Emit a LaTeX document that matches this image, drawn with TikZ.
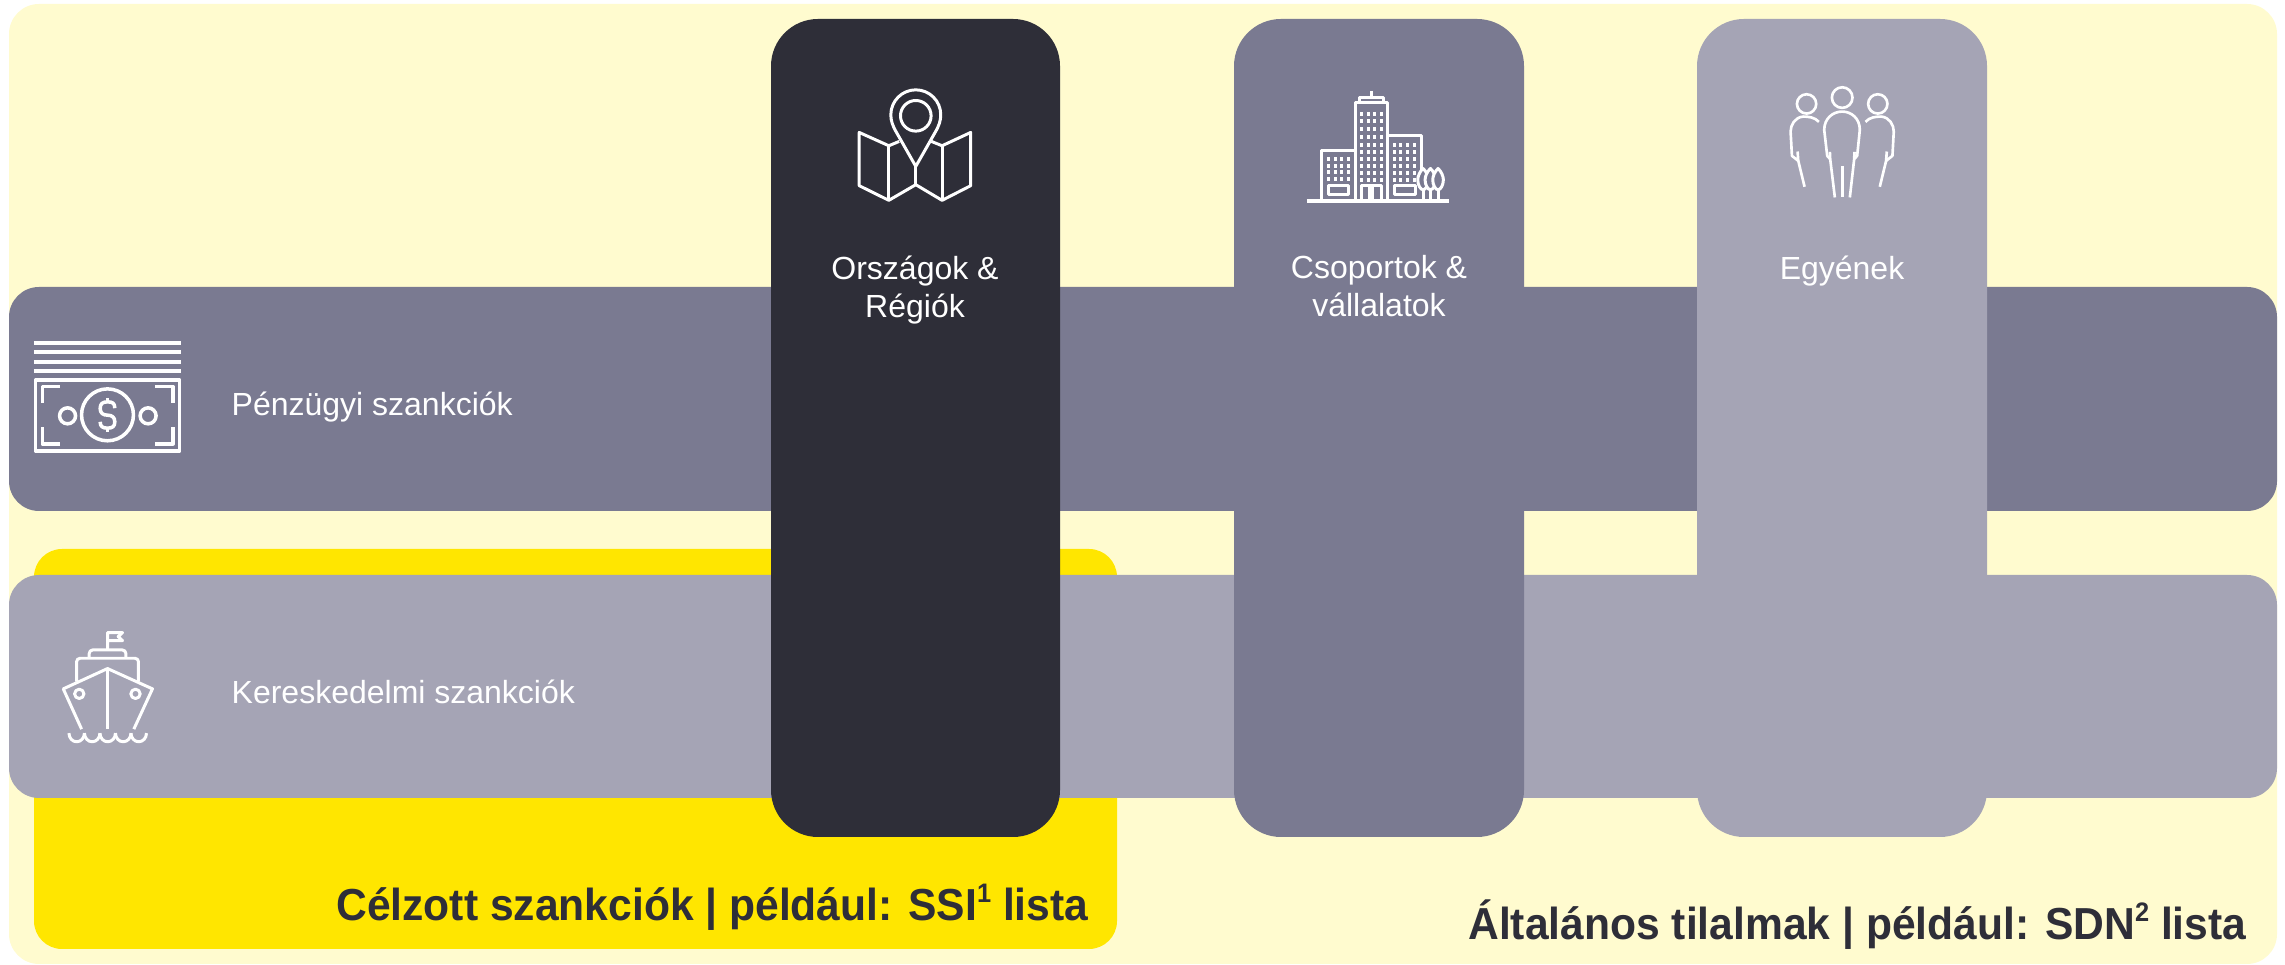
\documentclass[tikz,border=0pt]{standalone}
\usepackage{fontspec}
\setmainfont[BoldFeatures={FakeStretch=0.95}]{Liberation Sans}
\definecolor{paleyellow}{HTML}{FFFBCF}
\definecolor{brightyellow}{HTML}{FFE600}
\definecolor{darkgrey}{HTML}{2E2E38}
\definecolor{midgrey}{HTML}{7A7A91}
\definecolor{lightgrey}{HTML}{A5A4B5}
\newcommand{\footmark}[1]{\raisebox{0.42em}{\fontsize{7.6}{8}\selectfont #1}}
\tikzset{
  label text/.style={text=white, font=\fontsize{9.1}{10.8}\selectfont, inner sep=0pt},
  column text/.style={label text, align=center, anchor=north},
  band text/.style={label text, anchor=base west},
  title text/.style={text=darkgrey, font=\fontsize{12.75}{14}\selectfont\bfseries, inner sep=0pt, anchor=base east},
  icon/.style={draw=white, line width=0.85pt, line join=round, x=0.003333cm, y=-0.003333cm},
}
\begin{document}
\begin{tikzpicture}[x=0.01cm, y=-0.01cm]
    \useasboundingbox (0, 0) rectangle (2285, 965);

    \fill[paleyellow, rounded corners=0.3cm] (9, 4) rectangle (2277, 964);

    \fill[brightyellow, rounded corners=0.28cm] (34, 549) rectangle (1117, 949);

    \fill[midgrey, rounded corners=0.3cm] (9, 287) rectangle (2277, 511);

    \fill[lightgrey, rounded corners=0.3cm] (9, 575) rectangle (2277, 798);

    \fill[darkgrey, rounded corners=0.47cm] (771, 19) rectangle (1060, 837);

    \fill[midgrey, rounded corners=0.47cm] (1234, 19) rectangle (1524, 837);

    \fill[lightgrey, rounded corners=0.47cm] (1697, 19) rectangle (1987, 837);

    \node[column text] (regions) at (915, 255) {Országok \&\\Régiók};

    \node[column text] (companies) at (1379, 255) {Csoportok \&\\vállalatok};

    \node[column text] (persons) at (1842, 255) {Egyének};

    \node[band text] (financial) at (231, 416) {Pénzügyi szankciók};

    \node[band text] (trade) at (231, 704) {Kereskedelmi szankciók};

    \node[title text] (targeted) at (1089, 921) {Célzott szankciók | például: SSI\footmark{1} lista};

    \node[title text] (general) at (2247, 940) {Általános tilalmak | például: SDN\footmark{2} lista};

    \begin{scope}[shift={(780, 0)}, icon]
        \draw (327, 438) -- (238, 398) -- (238, 558) -- (327, 602) -- (408, 555) -- (487, 602) -- (573, 558) -- (573, 398) -- (487, 438) -- (455, 425);
        \draw (327, 438) -- (358, 425);
        \draw (327, 438) -- (327, 602);
        \draw (487, 438) -- (487, 602);
        \draw (408, 500) -- (408, 555);
        \draw (408, 500) -- (350, 398) .. controls (338, 378) and (333, 362) .. (333, 345) arc[radius=75, start angle=180, end angle=360] .. controls (483, 362) and (478, 378) .. (466, 398) -- cycle;
        \draw (408, 348) circle[radius=46];
    \end{scope}

    \begin{scope}[shift={(1260, 60)}, icon]
        \draw (186, 424) -- (186, 273) -- (286, 273);
        \draw (286, 424) -- (286, 128) -- (384, 128) -- (384, 424);
        \draw (299, 128) -- (299, 113) -- (370, 113) -- (370, 128);
        \draw (334, 93) -- (334, 113);
        \draw (384, 228) -- (485, 228) -- (485, 330);
        \draw (304, 424) -- (304, 378) -- (366, 378) -- (366, 424);
        \draw (330, 378) -- (330, 424);
        \draw (338, 378) -- (338, 424);
        \draw (205, 378) rectangle (267, 404);
        \draw (403, 378) rectangle (466, 404);
        \foreach \wx in {304, 325, 343, 364}
            \foreach \wy in {161, 184, 208, 231, 254, 276, 298, 318, 339, 360}
                \fill[white] (\wx-4.5, \wy-6) rectangle (\wx+4.5, \wy+6);
        \foreach \wx in {205, 226, 245, 265}
            \foreach \wy in {299, 318, 338, 359}
                \fill[white] (\wx-4.5, \wy-6) rectangle (\wx+4.5, \wy+6);
        \foreach \wx in {403, 423, 442, 463}
            \foreach \wy in {255, 276, 298, 318, 339, 360}
                \fill[white] (\wx-4.5, \wy-6) rectangle (\wx+4.5, \wy+6);
        \foreach \tx in {490, 512, 535} {
            \draw[fill=midgrey] (\tx, 326) .. controls (\tx+10, 335) and (\tx+16, 350) .. (\tx+16, 360) .. controls (\tx+16, 375) and (\tx+8, 390) .. (\tx, 390) .. controls (\tx-8, 390) and (\tx-16, 375) .. (\tx-16, 360) .. controls (\tx-16, 350) and (\tx-10, 335) .. (\tx, 326) -- cycle;
            \draw (\tx, 390) -- (\tx, 424);
        }
        \draw[line width=1pt] (141, 424) -- (567, 424);
    \end{scope}

    \begin{scope}[shift={(1740, 60)}, icon, line width=0.75pt]
        \draw (307, 113) circle[radius=31];
        \draw (200, 132) circle[radius=29];
        \draw (414, 132) circle[radius=29];
        \draw (285, 413) -- (271, 298) -- (270, 276);
        \draw (271, 298) -- (262, 288) -- (253, 210) .. controls (253, 175) and (280, 155) .. (307, 155) .. controls (334, 155) and (360, 175) .. (360, 210) -- (352, 288) -- (343, 298) -- (344, 276);
        \draw (343, 298) -- (330, 413);
        \draw (307, 318) -- (307, 413);
        \draw (237, 186) .. controls (225, 172) and (205, 170) .. (190, 170) .. controls (165, 172) and (152, 195) .. (152, 215) -- (156, 288) -- (175, 303) -- (173, 275);
        \draw (175, 303) -- (194, 381);
        \draw (377, 186) .. controls (389, 172) and (409, 170) .. (424, 170) .. controls (449, 172) and (462, 195) .. (462, 215) -- (458, 288) -- (439, 303) -- (441, 275);
        \draw (439, 303) -- (420, 381);
    \end{scope}

    \begin{scope}[shift={(0, 320)}, icon, line width=1pt]
        \foreach \ly in {69, 96, 126, 153}
            \draw (102, \ly) -- (543, \ly);
        \draw (107, 180) rectangle (540, 394);
        \draw (180, 200) -- (127, 200) -- (127, 250);
        \draw (465, 200) -- (520, 200) -- (520, 250);
        \draw (127, 322) -- (127, 372) -- (180, 372);
        \draw (520, 322) -- (520, 372) -- (465, 372);
        \draw (323, 285) circle[radius=78];
        \draw (203, 288) circle[radius=24];
        \draw (445, 288) circle[radius=24];
        \draw (345, 265) .. controls (345, 250) and (338, 246) .. (323, 246) .. controls (308, 246) and (301, 252) .. (301, 266) .. controls (301, 280) and (310, 286) .. (323, 286) .. controls (336, 286) and (345, 292) .. (345, 306) .. controls (345, 320) and (338, 325) .. (323, 325) .. controls (308, 325) and (301, 320) .. (301, 306);
        \draw (323, 234) -- (323, 246);
        \draw (323, 325) -- (323, 337);
    \end{scope}

    \begin{scope}[shift={(30, 610)}, icon]
        \draw (233, 118) -- (233, 68) -- (278, 68) -- (265, 80) -- (278, 92) -- (233, 92);
        \draw[rounded corners=1pt] (178, 145) -- (178, 120) -- (288, 120) -- (288, 145);
        \draw[rounded corners=1pt] (140, 215) -- (140, 145) -- (326, 145) -- (326, 215);
        \draw (155, 358) -- (100, 237) -- (233, 176) -- (368, 237) -- (312, 358);
        \draw (233, 176) -- (233, 358);
        \draw (148, 252) circle[radius=14];
        \draw (317, 252) circle[radius=14];
        \foreach \sx in {117, 163.6, 210.2, 256.8, 303.4}
            \draw (\sx, 370) arc[x radius=23.3, y radius=26, start angle=180, end angle=0];
    \end{scope}
\end{tikzpicture}
\end{document}
